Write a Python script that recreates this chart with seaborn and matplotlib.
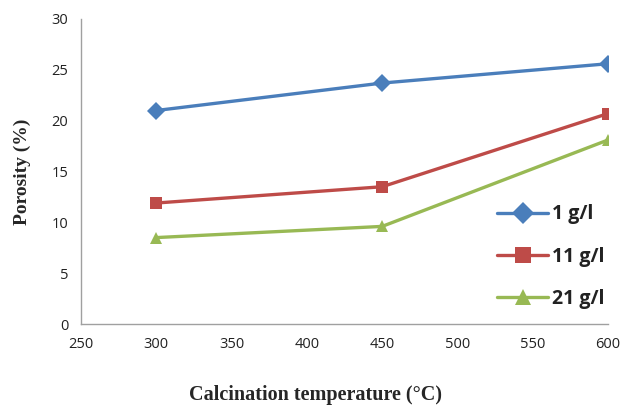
import matplotlib
matplotlib.use("Agg")
import matplotlib.pyplot as plt
import seaborn as sns
import pandas as pd

temperatures = [300, 450, 600]
porosity_1 = [21.0, 23.7, 25.6]
porosity_11 = [11.9, 13.5, 20.7]
porosity_21 = [8.5, 9.6, 18.1]
series_names = ["1 g/l", "11 g/l", "21 g/l"]

rows = []
for name, vals in zip(series_names, [porosity_1, porosity_11, porosity_21]):
    for t, v in zip(temperatures, vals):
        rows.append({"Temperature": t, "Porosity": v, "Series": name})
df = pd.DataFrame(rows)

sns.set_style("white")
plt.rcParams['font.family'] = ['Open Sans', 'DejaVu Sans']

fig = plt.figure(figsize=(6.22, 4.07), dpi=100)
ax = fig.add_axes([81/622, 1-324/407, (608-81)/622, (324-19)/407])

palette = {"1 g/l": "#4a7ebb", "11 g/l": "#be4b48", "21 g/l": "#98b954"}
markers = {"1 g/l": "D", "11 g/l": "s", "21 g/l": "^"}
sns.lineplot(data=df, x="Temperature", y="Porosity", hue="Series", style="Series",
             palette=palette, markers=markers, dashes=False, linewidth=2.4,
             markersize=9, markeredgewidth=0, ax=ax, legend=False)

ax.set_xlim(250, 600)
ax.set_ylim(0, 30)
ax.set_xticks(range(250, 601, 50))
ax.set_yticks(range(0, 31, 5))
for s in ["top", "right"]:
    ax.spines[s].set_visible(False)
for s in ["left", "bottom"]:
    ax.spines[s].set_color("#a0a0a0")
    ax.spines[s].set_linewidth(1)
ax.tick_params(axis="both", which="both", direction="out", length=5, width=1,
               color="#a0a0a0", labelsize=10.5, labelcolor="#222222", pad=4)
ax.set_xlabel("")
ax.set_ylabel("")

fig.text(315/622, 1-395/407, "Calcination temperature (\u00b0C)", ha="center", va="center",
         fontsize=14.5, fontweight="bold", family=["Liberation Serif"])
fig.text(22/622, 1-172/407, "Porosity (%)", ha="center", va="center", rotation=90,
         fontsize=14, fontweight="bold", family=["Liberation Serif"])

from matplotlib.lines import Line2D
handles = [Line2D([], [], color=palette[n], marker=markers[n], markersize=11,
                  markeredgewidth=0, linewidth=2.4) for n in series_names]
leg = fig.legend(handles, series_names, loc="upper left",
                 bbox_to_anchor=(480/622, 1-187/407), frameon=False,
                 prop={"size": 14, "weight": "bold", "family": "Open Sans"},
                 labelspacing=1.15, handlelength=2.6, handletextpad=0.2)
for t in leg.get_texts():
    t.set_color("#222222")

fig.savefig("out.png", dpi=100)
